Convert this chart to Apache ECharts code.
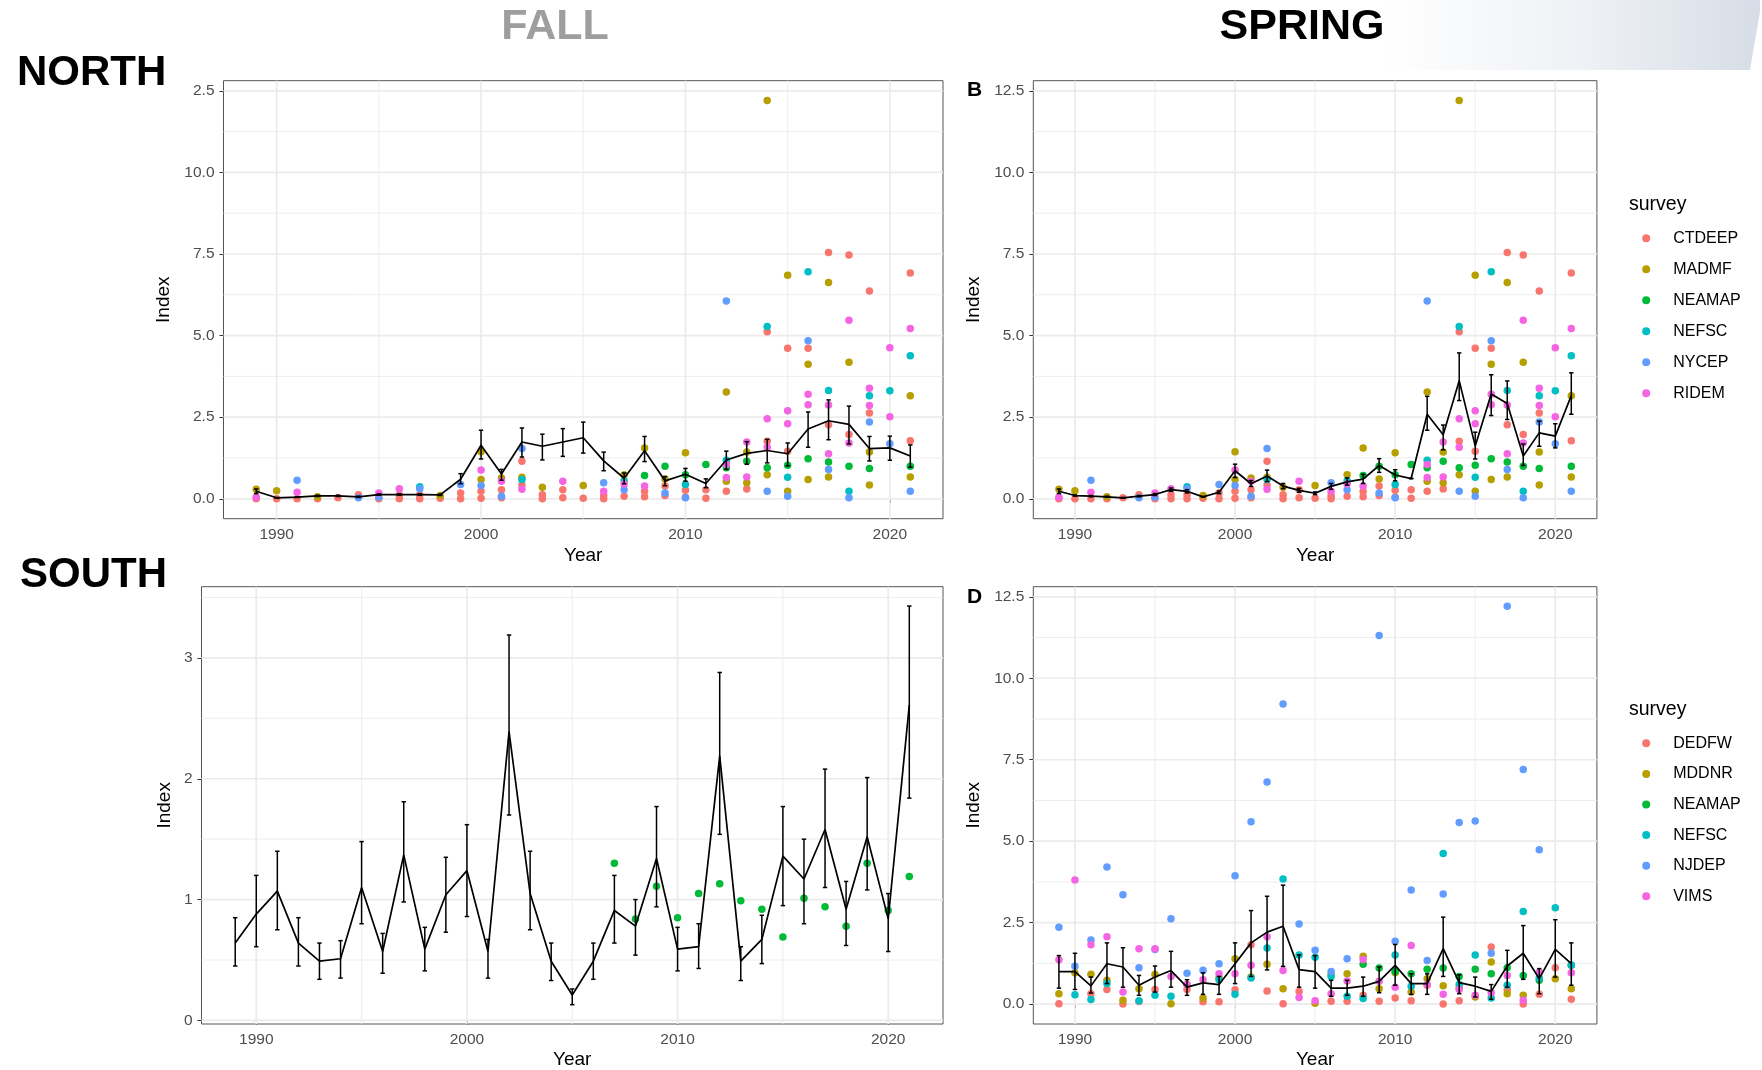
<!DOCTYPE html>
<html>
<head>
<meta charset="utf-8">
<title>Index by survey, North / South, Fall / Spring</title>
<script src="https://cdn.jsdelivr.net/npm/echarts@6/dist/echarts.min.js"></script>
<style>
  html, body { margin: 0; padding: 0; background: #fff; }
  #chart { width: 1762px; height: 1070px; }
</style>
</head>
<body>
<div id="chart"></div>
<script>
// ---------- data ----------
const years = [1989,1990,1991,1992,1993,1994,1995,1996,1997,1998,1999,2000,2001,2002,2003,2004,2005,
               2006,2007,2008,2009,2010,2011,2012,2013,2014,2015,2016,2017,2018,2019,2020,2021];
const yearTicks = [1990, 2000, 2010, 2020];

const northSurveys = ['CTDEEP', 'MADMF', 'NEAMAP', 'NEFSC', 'NYCEP', 'RIDEM'];
const southSurveys = ['DEDFW', 'MDDNR', 'NEAMAP', 'NEFSC', 'NJDEP', 'VIMS'];
const surveyColors = ['#F8766D', '#B79F00', '#00BA38', '#00BFC4', '#619CFF', '#F564E3'];

// North survey indices [year, index]
const ctdeepN = [[1989,0.0],[1990,0.0],[1991,0.0],[1992,0.0],[1993,0.03],[1994,0.12],[1995,0.0],[1996,0.12],[1996,0.0],
  [1997,0.12],[1997,0.0],[1998,0.02],[1999,0.18],[1999,0.0],[2000,0.23],[2000,0.02],[2001,0.28],[2001,0.03],[2002,1.15],
  [2002,0.42],[2003,0.12],[2003,0.0],[2004,0.28],[2004,0.03],[2005,0.02],[2006,0.1],[2006,0.0],[2007,0.08],[2008,0.23],
  [2008,0.06],[2009,0.39],[2009,0.1],[2010,0.26],[2010,0.05],[2011,0.28],[2011,0.02],[2012,0.23],[2013,0.3],[2014,5.12],
  [2014,1.76],[2015,4.61],[2015,1.46],[2016,4.61],[2017,7.55],[2017,2.27],[2018,7.47],[2018,1.97],[2019,6.37],[2019,2.63],
  [2021,6.92],[2021,1.78]];
const madmfN = [[1989,0.29],[1990,0.25],[1992,0.06],[1998,0.1],[2000,1.44],[2000,0.59],[2001,0.64],[2002,0.66],[2003,0.35],
  [2005,0.41],[2007,0.74],[2008,1.56],[2009,0.61],[2010,1.41],[2012,3.27],[2012,0.54],[2013,1.43],[2013,0.49],[2014,12.2],
  [2014,0.74],[2015,6.85],[2015,0.23],[2016,4.12],[2016,0.59],[2017,6.63],[2017,0.67],[2018,4.18],[2019,1.43],[2019,0.42],
  [2021,3.16],[2021,0.67]];
const neamapN = [[2008,0.71],[2009,1.0],[2010,0.74],[2011,1.05],[2012,0.95],[2013,1.15],[2014,0.95],[2015,1.03],[2016,1.23],
  [2017,1.13],[2018,1.0],[2019,0.93],[2021,1.0]];
const nefscN = [[1997,0.37],[2002,0.59],[2007,0.55],[2010,0.44],[2012,1.18],[2014,5.28],[2015,0.66],[2016,6.96],[2017,3.32],
  [2018,0.23],[2019,3.16],[2020,3.31],[2021,4.38]];
const nycepN = [[1991,0.57],[1994,0.03],[1995,0.05],[1997,0.31],[1999,0.44],[2000,0.41],[2001,0.08],[2002,1.54],[2006,0.49],
  [2007,0.28],[2009,0.18],[2010,0.03],[2012,6.06],[2014,0.23],[2015,0.08],[2016,4.84],[2017,0.9],[2018,0.03],[2019,2.35],
  [2020,1.69],[2021,0.23]];
const ridemN = [[1989,0.05],[1991,0.2],[1995,0.18],[1996,0.31],[2000,0.88],[2001,0.54],[2002,0.29],[2004,0.54],[2006,0.23],
  [2007,0.45],[2008,0.39],[2012,1.05],[2012,0.65],[2013,1.74],[2013,0.67],[2014,2.45],[2014,1.58],[2015,2.7],[2015,2.3],
  [2016,3.2],[2016,2.88],[2017,2.87],[2017,1.38],[2018,5.47],[2018,1.71],[2019,3.39],[2019,2.86],[2020,4.63],[2020,2.51],
  [2021,5.22]];

// North combined index (mean, lower, upper)
const fallNorthMean = [0.23,0.03,0.05,0.09,0.09,0.06,0.13,0.13,0.13,0.12,0.60,1.64,0.76,1.74,1.61,1.74,1.87,1.16,0.63,1.47,
  0.55,0.75,0.47,1.19,1.39,1.48,1.38,2.14,2.39,2.28,1.54,1.56,1.31];
const fallNorthLow = [0.16,0.02,0.04,0.07,0.07,0.04,0.11,0.11,0.11,0.10,0.46,1.22,0.57,1.28,1.19,1.30,1.40,0.86,0.46,1.14,
  0.40,0.54,0.34,0.90,1.06,1.10,1.01,1.58,1.81,1.68,1.16,1.18,0.97];
const fallNorthHigh = [0.30,0.04,0.06,0.11,0.11,0.08,0.15,0.15,0.15,0.14,0.77,2.10,0.90,2.17,1.98,2.15,2.35,1.43,0.79,1.91,
  0.68,0.93,0.61,1.46,1.75,1.82,1.71,2.66,3.03,2.84,1.91,1.92,1.65];

const springNorthMean = [0.23,0.10,0.08,0.06,0.03,0.08,0.13,0.28,0.23,0.06,0.20,0.86,0.46,0.70,0.39,0.26,0.17,0.38,0.52,0.60,
  1.02,0.73,0.62,2.59,1.96,3.62,1.62,3.21,2.92,1.31,2.02,1.92,3.16];
const springNorthLow = [0.16,0.08,0.06,0.05,0.02,0.06,0.10,0.23,0.18,0.05,0.16,0.65,0.38,0.53,0.31,0.20,0.13,0.29,0.42,0.47,
  0.81,0.55,0.62,2.10,1.50,3.01,1.22,2.55,2.43,1.02,1.61,1.56,2.59];
const springNorthHigh = [0.30,0.12,0.10,0.08,0.04,0.10,0.16,0.33,0.28,0.07,0.24,1.06,0.56,0.88,0.47,0.32,0.21,0.47,0.64,0.75,
  1.23,0.89,0.62,3.14,2.26,4.47,2.04,3.80,3.61,1.68,2.38,2.30,3.86];

// South, fall
const neamapSouthFall = [[2007,1.30],[2008,0.84],[2009,1.11],[2010,0.85],[2011,1.05],[2012,1.13],[2013,0.99],[2014,0.92],
  [2015,0.69],[2016,1.01],[2017,0.94],[2018,0.78],[2019,1.30],[2020,0.91],[2021,1.19]];
const fallSouthMean = [0.64,0.88,1.07,0.64,0.49,0.51,1.10,0.57,1.37,0.59,1.04,1.24,0.57,2.39,1.05,0.49,0.21,0.49,0.91,0.78,
  1.34,0.59,0.61,2.19,0.49,0.67,1.36,1.17,1.58,0.92,1.52,0.84,2.61];
const fallSouthLow = [0.45,0.61,0.75,0.45,0.34,0.35,0.80,0.39,0.98,0.41,0.73,0.86,0.35,1.70,0.75,0.33,0.13,0.34,0.64,0.54,
  0.94,0.41,0.43,1.54,0.33,0.47,0.95,0.80,1.10,0.62,1.08,0.57,1.84];
const fallSouthHigh = [0.85,1.20,1.40,0.85,0.64,0.66,1.48,0.72,1.81,0.77,1.35,1.62,0.67,3.19,1.40,0.64,0.26,0.64,1.20,1.00,
  1.77,0.77,0.80,2.88,0.61,0.87,1.77,1.50,2.08,1.15,2.01,1.05,3.43];

// South, spring survey indices [year, index]
const dedfwS = [[1989,0.01],[1991,0.32],[1992,0.45],[1993,0.0],[1994,0.08],[1995,0.45],[1997,0.45],[1998,0.07],[1999,0.07],
  [2000,0.44],[2001,1.82],[2002,0.4],[2003,0.01],[2004,0.39],[2006,0.09],[2007,0.09],[2008,0.27],[2009,0.09],[2010,0.19],
  [2011,0.1],[2012,0.58],[2013,0.0],[2014,0.1],[2016,1.75],[2017,0.44],[2018,0.0],[2019,0.3],[2020,1.12],[2021,0.15]];
const mddnrS = [[1989,0.32],[1990,0.96],[1991,0.92],[1992,0.73],[1993,0.12],[1994,0.47],[1995,0.91],[1996,0.01],[1997,0.6],
  [1998,0.19],[1999,0.8],[2000,1.39],[2001,0.83],[2002,1.22],[2003,0.47],[2005,0.03],[2006,0.9],[2007,0.93],[2008,1.47],
  [2009,0.47],[2010,0.96],[2011,0.37],[2012,0.78],[2013,0.56],[2014,0.5],[2015,0.22],[2016,1.29],[2017,0.32],[2018,0.27],
  [2020,0.78],[2021,0.47]];
const neamapS = [[2008,1.22],[2009,1.11],[2010,1.0],[2011,0.93],[2012,1.07],[2013,1.11],[2014,0.85],[2015,1.07],[2016,0.93],
  [2017,1.12],[2018,0.88],[2019,0.73],[2021,1.19]];
const nefscS = [[1990,0.29],[1991,0.14],[1992,0.63],[1994,0.1],[1995,0.27],[1996,0.24],[1999,0.75],[2000,0.3],[2001,0.8],
  [2002,1.72],[2003,3.84],[2004,1.51],[2005,1.44],[2006,0.85],[2007,0.24],[2008,0.17],[2010,1.51],[2011,0.55],[2013,4.62],
  [2014,0.6],[2015,1.51],[2016,0.19],[2017,0.58],[2018,2.84],[2019,0.8],[2020,2.96],[2021,1.2]];
const njdepS = [[1989,2.36],[1990,1.16],[1991,1.97],[1992,4.21],[1993,3.36],[1994,1.12],[1995,1.68],[1996,2.62],[1997,0.95],
  [1998,1.04],[1999,1.24],[2000,3.94],[2001,5.6],[2002,6.82],[2003,9.21],[2004,2.46],[2005,1.65],[2006,1.0],[2007,1.39],
  [2009,11.31],[2010,1.93],[2011,3.5],[2012,1.34],[2013,3.38],[2014,5.57],[2015,5.62],[2016,1.56],[2017,12.21],[2018,7.2],
  [2019,4.74]];
const vimsS = [[1989,1.36],[1990,3.81],[1991,1.82],[1992,2.07],[1993,0.37],[1994,1.7],[1995,1.7],[1996,0.85],[1997,0.6],
  [1998,0.75],[1999,0.93],[2000,0.93],[2001,1.19],[2002,2.07],[2003,1.03],[2004,0.2],[2005,0.1],[2006,0.32],[2007,0.71],
  [2008,1.37],[2009,0.7],[2010,0.52],[2011,1.8],[2012,0.6],[2013,0.3],[2014,0.45],[2015,0.27],[2016,0.35],[2017,0.88],
  [2018,0.12],[2019,0.98],[2021,0.96]];

const springSouthMean = [1.00,1.00,0.56,1.24,1.14,0.58,0.83,1.03,0.52,0.65,0.60,1.24,1.88,2.21,2.39,1.06,1.00,0.49,0.49,0.55,
  0.70,1.19,0.63,0.63,1.70,0.66,0.55,0.39,1.17,1.56,0.78,1.68,1.24];
const springSouthLow = [0.49,0.45,0.34,0.63,0.52,0.27,0.37,0.52,0.27,0.30,0.30,0.63,0.85,1.05,1.16,0.52,0.49,0.24,0.27,0.24,
  0.35,0.58,0.30,0.30,0.85,0.32,0.22,0.15,0.52,0.76,0.32,0.83,0.58];
const springSouthHigh = [1.49,1.56,0.83,1.88,1.73,0.88,1.17,1.62,0.75,0.96,0.85,1.88,2.87,3.31,3.65,1.51,1.49,0.73,0.73,0.83,
  1.14,1.83,0.93,0.93,2.67,0.90,0.83,0.60,1.65,2.41,1.09,2.59,1.88];

const bigTicks = [0, 2.5, 5, 7.5, 10, 12.5];
const bigMinor = [1.25, 3.75, 6.25, 8.75, 11.25];
const smallTicks = [0, 1, 2, 3];
const smallMinor = [0.5, 1.5, 2.5, 3.5];
const yearMinor = [1995, 2005, 2015];

// ---------- layout ----------
const FONT = '"Liberation Sans", Arial, Helvetica, sans-serif';
const panels = [
  { left: 223.5, top: 80.7, width: 719.5, height: 438 },   // north fall
  { left: 1033.3, top: 80.7, width: 563.6, height: 438 },  // north spring
  { left: 201.5, top: 586.7, width: 741.5, height: 438.3 },// south fall
  { left: 1033.3, top: 586.7, width: 563.6, height: 438.3 } // south spring
];
const X_MIN = 1987.4, X_MAX = 2022.6;
const yRanges = [[-0.61, 12.81], [-0.61, 12.81], [-0.03, 3.59], [-0.61, 12.81]];

function xAxisFor(i) {
  return {
    type: 'value', gridIndex: i, min: X_MIN, max: X_MAX,
    axisLine: { show: false },
    axisTick: { show: true, length: 4, customValues: yearTicks, lineStyle: { color: '#333', width: 1 } },
    axisLabel: { customValues: yearTicks, color: '#4D4D4D', fontSize: 15.5, fontFamily: FONT, margin: 8,
                 formatter: v => String(v) },
    splitLine: { show: false },
    name: 'Year', nameLocation: 'middle', nameGap: i < 2 ? 28 : 26,
    nameTextStyle: { color: '#000', fontSize: 19, fontFamily: FONT }
  };
}
function yAxisFor(i) {
  const small = i === 2;
  return {
    type: 'value', gridIndex: i, min: yRanges[i][0], max: yRanges[i][1],
    axisLine: { show: false },
    axisTick: { show: true, length: 4, customValues: small ? smallTicks : bigTicks, lineStyle: { color: '#333', width: 1 } },
    axisLabel: {
      customValues: small ? smallTicks : bigTicks, color: '#4D4D4D', fontSize: 15.5, fontFamily: FONT, margin: 9,
      // leading digit of the 12.5 label is clipped on the north-fall panel
      formatter: v => small ? String(v) : (i === 0 && v === 12.5 ? '2.5' : v.toFixed(1))
    },
    splitLine: { show: false },
    name: 'Index', nameLocation: 'middle', nameRotate: 90, nameGap: small ? 27 : 50,
    nameTextStyle: { color: '#000', fontSize: 19, fontFamily: FONT }
  };
}

// background grid lines (major + minor), positioned through the axis scales
function gridLines(i, yMajor, yMinor) {
  const data = [];
  yearTicks.forEach(v => data.push([0, v, 1]));
  yearMinor.forEach(v => data.push([0, v, 0]));
  yMajor.forEach(v => data.push([1, v, 1]));
  yMinor.forEach(v => data.push([1, v, 0]));
  return {
    type: 'custom', name: 'grid', xAxisIndex: i, yAxisIndex: i, silent: true, z: 1,
    encode: { x: -1, y: -1 },
    data,
    renderItem(params, api) {
      const cs = params.coordSys;
      const horiz = api.value(0) === 1, v = api.value(1), major = api.value(2) === 1;
      let shape;
      if (!horiz) {
        const x = api.coord([v, 0])[0];
        shape = { x1: x, y1: cs.y, x2: x, y2: cs.y + cs.height };
      } else {
        const y = api.coord([2000, v])[1];
        shape = { x1: cs.x, y1: y, x2: cs.x + cs.width, y2: y };
      }
      return { type: 'line', shape, style: { stroke: '#EBEBEB', lineWidth: major ? 1.7 : 0.9 } };
    }
  };
}

function scatter(name, i, data, color) {
  return {
    type: 'scatter', name, xAxisIndex: i, yAxisIndex: i, data, z: 2,
    symbol: 'circle', symbolSize: 7.5, itemStyle: { color, opacity: 1 },
    silent: true, emphasis: { disabled: true }
  };
}
function meanLine(i, mean) {
  return {
    type: 'line', name: 'mean', xAxisIndex: i, yAxisIndex: i, z: 3,
    data: years.map((y, k) => [y, mean[k]]),
    showSymbol: false, symbol: 'none', silent: true,
    lineStyle: { color: '#000', width: 1.7 }
  };
}
function errorBars(i, low, high) {
  return {
    type: 'custom', name: 'se', xAxisIndex: i, yAxisIndex: i, z: 4, silent: true,
    encode: { x: 0, y: [1, 2] },
    data: years.map((y, k) => [y, low[k], high[k]]),
    renderItem(params, api) {
      const x = api.value(0);
      const lo = api.coord([x, api.value(1)]);
      const hi = api.coord([x, api.value(2)]);
      const w = 2.2;
      const st = { stroke: '#000', lineWidth: 1.5 };
      return { type: 'group', children: [
        { type: 'line', shape: { x1: lo[0], y1: lo[1], x2: hi[0], y2: hi[1] }, style: st },
        { type: 'line', shape: { x1: lo[0] - w, y1: lo[1], x2: lo[0] + w, y2: lo[1] }, style: st },
        { type: 'line', shape: { x1: hi[0] - w, y1: hi[1], x2: hi[0] + w, y2: hi[1] }, style: st }
      ]};
    }
  };
}

const northData = [ctdeepN, madmfN, neamapN, nefscN, nycepN, ridemN];
const southData = [dedfwS, mddnrS, neamapS, nefscS, njdepS, vimsS];

const series = [
  gridLines(0, bigTicks, bigMinor), gridLines(1, bigTicks, bigMinor),
  gridLines(2, smallTicks, smallMinor), gridLines(3, bigTicks, bigMinor)
];
[0, 1].forEach(i => northSurveys.forEach((s, k) => series.push(scatter(s, i, northData[k], surveyColors[k]))));
series.push(meanLine(0, fallNorthMean), errorBars(0, fallNorthLow, fallNorthHigh));
series.push(meanLine(1, springNorthMean), errorBars(1, springNorthLow, springNorthHigh));
series.push(scatter('NEAMAP', 2, neamapSouthFall, surveyColors[2]));
series.push(meanLine(2, fallSouthMean), errorBars(2, fallSouthLow, fallSouthHigh));
southSurveys.forEach((s, k) => series.push(scatter(s, 3, southData[k], surveyColors[k])));
series.push(meanLine(3, springSouthMean), errorBars(3, springSouthLow, springSouthHigh));

function legendFor(names, top, gap) {
  return {
    data: names, orient: 'vertical', left: 1642.2, top, padding: 0,
    itemWidth: 44, itemHeight: 8, itemGap: gap, icon: 'circle', selectedMode: false,
    textStyle: { color: '#000', fontSize: 16, fontFamily: FONT }
  };
}

function label(text, x, y, size, color, bold) {
  return {
    type: 'text', x, y, silent: true,
    style: { text, fill: color, font: (bold ? 'bold ' : '') + size + 'px ' + FONT,
             align: 'left', verticalAlign: 'middle', textAlign: 'left', textVerticalAlign: 'middle' }
  };
}
function centered(text, x, y, size, color) {
  return {
    type: 'text', x, y, silent: true,
    style: { text, fill: color, font: 'bold ' + size + 'px ' + FONT,
             align: 'center', verticalAlign: 'middle', textAlign: 'center', textVerticalAlign: 'middle' }
  };
}

const option = {
  animation: false,
  backgroundColor: '#fff',
  textStyle: { fontFamily: FONT },
  grid: panels.map(p => Object.assign({ show: true, borderColor: '#555', borderWidth: 1, backgroundColor: '#fff',
                                         containLabel: false }, p)),
  xAxis: panels.map((p, i) => xAxisFor(i)),
  yAxis: panels.map((p, i) => yAxisFor(i)),
  legend: [legendFor(northSurveys, 230.3, 15), legendFor(southSurveys, 735.3, 14.6)],
  graphic: [
    {
      // slide header band in the top-right corner
      type: 'polygon', silent: true, z: -10,
      shape: { points: [[1380, 0], [1762, 0], [1750, 70], [1380, 70]] },
      style: { fill: new echarts.graphic.LinearGradient(0, 0, 1, 0, [
        { offset: 0, color: 'rgba(220,226,234,0)' },
        { offset: 0.5, color: 'rgba(220,226,234,0.45)' },
        { offset: 1, color: 'rgba(214,221,230,1)' }
      ]) }
    },
    { type: 'rect', silent: true, z: -9, shape: { x: 1760, y: 0, width: 2, height: 70 }, style: { fill: '#fff' } },
    centered('FALL', 555, 27, 43, '#9E9E9E'),
    centered('SPRING', 1302, 27, 43, '#000'),
    label('NORTH', 17, 73, 42, '#000', true),
    label('SOUTH', 20, 575.5, 42, '#000', true),
    label('B', 967, 90, 21, '#000', true),
    label('D', 967, 597, 21, '#000', true),
    label('survey', 1629, 205, 19.5, '#000', false),
    label('survey', 1629, 710, 19.5, '#000', false)
  ],
  series
};

const chart = echarts.init(document.getElementById('chart'), null, { renderer: 'canvas' });
chart.setOption(option);
</script>
</body>
</html>
